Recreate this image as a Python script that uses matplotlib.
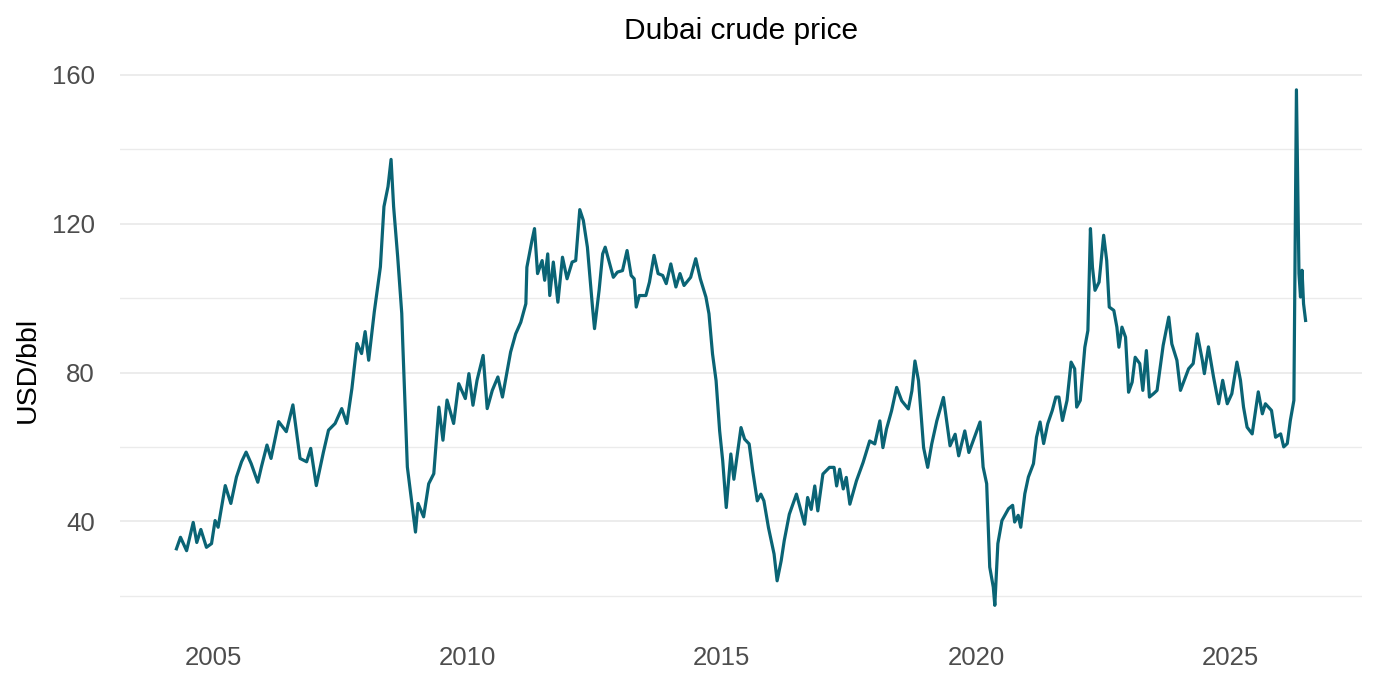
import matplotlib
matplotlib.use('Agg')
import numpy as np
import matplotlib.pyplot as plt

plt.rcParams['font.family'] = ['Liberation Sans', 'DejaVu Sans']

# weekly-ish readings (decimal year, USD/bbl)
year = [
    2004.28, 2004.36, 2004.48, 2004.61, 2004.68, 2004.76, 2004.87, 2004.97,
    2005.04, 2005.10, 2005.24, 2005.35, 2005.46, 2005.56, 2005.65, 2005.75, 2005.88, 2005.95,
    2006.06, 2006.14, 2006.29, 2006.44, 2006.57, 2006.71, 2006.84, 2006.92,
    2007.03, 2007.17, 2007.27, 2007.40, 2007.53, 2007.63, 2007.73, 2007.83, 2007.92, 2007.99,
    2008.06, 2008.17, 2008.29, 2008.36, 2008.44, 2008.50, 2008.55, 2008.63, 2008.71, 2008.73,
    2008.82, 2008.98,
    2009.03, 2009.14, 2009.24, 2009.34, 2009.44, 2009.52, 2009.60, 2009.73, 2009.83, 2009.96,
    2010.03, 2010.11, 2010.19, 2010.31, 2010.39, 2010.49, 2010.60, 2010.69, 2010.85, 2010.95,
    2011.05, 2011.15, 2011.17, 2011.27, 2011.32, 2011.38, 2011.47, 2011.52, 2011.58, 2011.62,
    2011.69, 2011.78, 2011.87, 2011.96,
    2012.06, 2012.13, 2012.21, 2012.28, 2012.36, 2012.46, 2012.50, 2012.59, 2012.66, 2012.71,
    2012.79, 2012.87, 2012.95,
    2013.05, 2013.14, 2013.22, 2013.28, 2013.32, 2013.38, 2013.51, 2013.58, 2013.67, 2013.75,
    2013.84, 2013.91,
    2014.00, 2014.10, 2014.18, 2014.26, 2014.39, 2014.49, 2014.58, 2014.69, 2014.75, 2014.82,
    2014.89, 2014.96,
    2015.02, 2015.09, 2015.18, 2015.24, 2015.38, 2015.45, 2015.54, 2015.61, 2015.70, 2015.77,
    2015.83, 2015.92,
    2016.03, 2016.09, 2016.17, 2016.23, 2016.33, 2016.47, 2016.63, 2016.69, 2016.76, 2016.83,
    2016.89, 2016.99,
    2017.12, 2017.21, 2017.26, 2017.32, 2017.39, 2017.45, 2017.52, 2017.65, 2017.78, 2017.91,
    2018.01, 2018.11, 2018.17, 2018.24, 2018.34, 2018.44, 2018.54, 2018.67, 2018.74, 2018.80,
    2018.87, 2018.97,
    2019.05, 2019.13, 2019.23, 2019.36, 2019.49, 2019.59, 2019.66, 2019.78, 2019.86, 2019.98,
    2020.08, 2020.14, 2020.21, 2020.27, 2020.34, 2020.37, 2020.43, 2020.51, 2020.64, 2020.72,
    2020.76, 2020.83, 2020.88, 2020.96,
    2021.03, 2021.13, 2021.19, 2021.26, 2021.33, 2021.41, 2021.50, 2021.57, 2021.63, 2021.70,
    2021.79, 2021.87, 2021.94, 2021.98,
    2022.05, 2022.14, 2022.20, 2022.25, 2022.29, 2022.34, 2022.42, 2022.51, 2022.57, 2022.62,
    2022.71, 2022.77, 2022.81, 2022.87, 2022.94,
    2023.00, 2023.07, 2023.13, 2023.22, 2023.28, 2023.35, 2023.41, 2023.49, 2023.56, 2023.68,
    2023.79, 2023.85, 2023.95,
    2024.02, 2024.08, 2024.18, 2024.27, 2024.35, 2024.45, 2024.49, 2024.57, 2024.67, 2024.77,
    2024.85, 2024.94,
    2025.03, 2025.13, 2025.20, 2025.26, 2025.33, 2025.43, 2025.55, 2025.63, 2025.69, 2025.81,
    2025.89, 2025.99,
    2026.05, 2026.12, 2026.18, 2026.25, 2026.30, 2026.35, 2026.38, 2026.41, 2026.44, 2026.48,
]
price = [
    32.6, 35.7, 32.1, 39.7, 34.3, 37.8, 33.0, 34.0,
    40.2, 38.4, 49.6, 44.8, 51.9, 56.0, 58.6, 55.5, 50.5, 54.6,
    60.5, 56.9, 66.8, 64.1, 71.3, 56.9, 56.0, 59.6,
    49.6, 58.6, 64.5, 66.3, 70.3, 66.3, 75.7, 87.8, 85.1, 91.0,
    83.3, 96.3, 108.4, 124.6, 130.0, 137.3, 124.6, 111.1, 95.9, 87.8,
    54.6, 37.1,
    44.8, 41.2, 50.1, 52.8, 70.7, 61.8, 72.6, 66.3, 77.0, 73.0,
    79.7, 71.2, 77.9, 84.6, 70.3, 75.2, 78.8, 73.4, 85.5, 90.4,
    93.5, 98.5, 108.3, 115.5, 118.7, 106.6, 110.1, 104.8, 111.9, 100.7,
    109.7, 98.9, 111.0, 105.2,
    109.7, 110.1, 123.8, 120.9, 113.7, 97.6, 91.8, 102.1, 111.9, 113.7,
    109.7, 105.6, 107.0,
    107.4, 112.8, 106.1, 105.2, 97.6, 100.7, 100.7, 104.3, 111.5, 106.6,
    106.1, 103.9,
    109.2, 103.0, 106.6, 103.4, 105.6, 110.6, 105.2, 100.3, 95.8, 85.0,
    77.8, 64.3,
    56.3, 43.7, 58.1, 51.3, 65.2, 62.1, 60.8, 53.6, 45.5, 47.3,
    45.5, 38.3,
    31.2, 24.0, 29.4, 34.8, 41.9, 47.3, 39.2, 46.4, 43.2, 49.5,
    42.8, 52.7,
    54.5, 54.5, 49.5, 54.0, 48.7, 51.8, 44.6, 50.9, 55.8, 61.6,
    60.8, 67.0, 59.8, 64.8, 69.7, 76.0, 72.4, 70.2, 75.1, 83.1,
    77.8, 59.8,
    54.5, 60.8, 67.0, 73.3, 60.3, 63.4, 57.6, 64.3, 58.5, 63.0,
    66.7, 54.6, 50.1, 27.7, 22.3, 17.4, 34.0, 40.2, 43.4, 44.3,
    39.8, 41.6, 38.4, 47.4,
    51.9, 55.5, 62.6, 66.7, 60.9, 66.2, 69.8, 73.4, 73.4, 67.1,
    72.5, 82.8, 81.0, 70.7,
    72.5, 86.8, 91.3, 118.7, 108.3, 102.1, 104.3, 116.9, 110.1, 97.6,
    96.7, 92.2, 86.8, 92.2, 89.5,
    74.7, 77.4, 84.1, 82.4, 75.2, 85.9, 73.4, 74.3, 75.2, 87.3,
    94.9, 87.7, 83.3,
    75.2, 77.4, 81.0, 82.4, 90.4, 83.3, 79.7, 86.9, 78.8, 71.6,
    77.9, 71.6,
    74.3, 82.8, 77.9, 70.7, 65.3, 63.5, 74.8, 68.9, 71.6, 69.8,
    62.6, 63.5,
    60.0, 60.9, 67.1, 72.5, 156.0, 106.6, 100.3, 107.5, 98.5, 94.0,
]
xticks = [2005, 2010, 2015, 2020, 2025]
yticks = [40, 80, 120, 160]
yminor = [20, 60, 100, 140]

fig = plt.figure(figsize=(13.79, 6.89), dpi=100)
ax = fig.add_axes([0.087, 0.084, 0.9007, 0.823])

ax.plot(year, price, color='#0a6475', linewidth=2.3, solid_joinstyle='round')

# ggplot-like 5% expansion
x0, x1 = min(year), max(year)
y0, y1 = min(price), max(price)
ax.set_xlim(x0 - 0.05*(x1-x0), x1 + 0.05*(x1-x0))
ax.set_ylim(y0 - 0.05*(y1-y0), y1 + 0.05*(y1-y0))

ax.set_xticks(xticks)
ax.set_xticklabels([str(t) for t in xticks])
ax.set_yticks(yticks)
ax.set_yticks(yminor, minor=True)
ax.tick_params(axis='both', which='both', length=0, labelsize=18.5, labelcolor='#4d4d4d')
ax.tick_params(axis='x', pad=11)
ax.tick_params(axis='y', pad=18)

ax.grid(axis='y', which='major', color='#ebebeb', linewidth=1.3)
ax.grid(axis='y', which='minor', color='#ebebeb', linewidth=1.0)
ax.grid(axis='x', visible=False)
ax.set_axisbelow(True)
for s in ax.spines.values():
    s.set_visible(False)

ax.set_ylabel('USD/bbl', fontsize=20.5, color='black')
ax.yaxis.set_label_coords(-0.064, 0.46)
ax.set_title('Dubai crude price', fontsize=21.5, color='black', pad=18)

fig.savefig('out.png', dpi=100)
